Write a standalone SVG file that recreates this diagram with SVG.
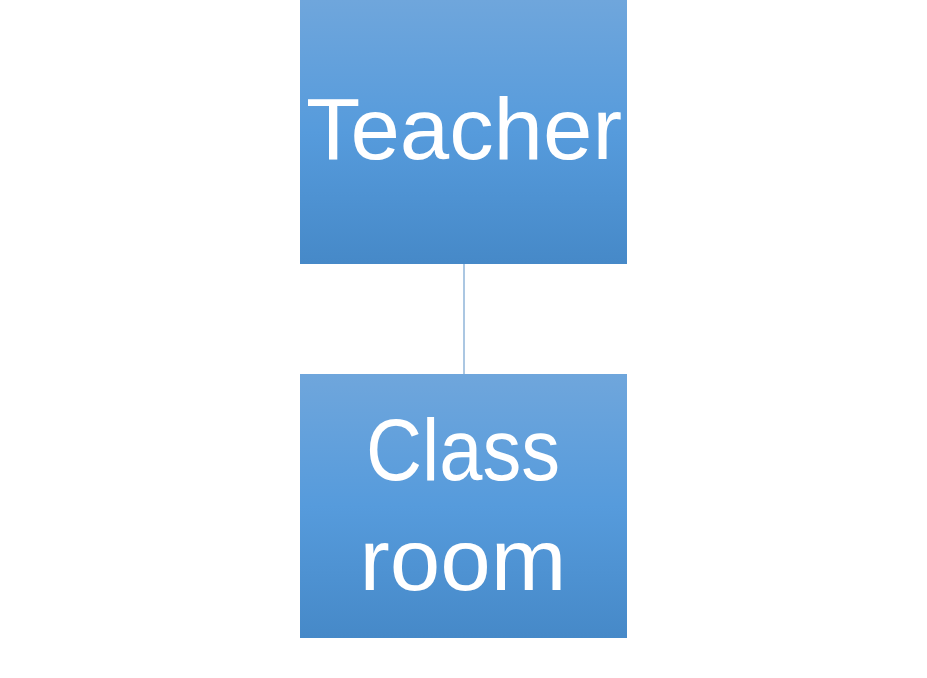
<svg xmlns="http://www.w3.org/2000/svg" width="927" height="678" viewBox="0 0 927 678">
<defs>
<linearGradient id="g" x1="0" y1="0" x2="0" y2="1">
<stop offset="0" stop-color="#6fa6dc"/>
<stop offset="0.5" stop-color="#569bdc"/>
<stop offset="1" stop-color="#4689c8"/>
</linearGradient>
</defs>
<style>
.box{fill:url(#g);}
.t{fill:#fff;font-family:"Liberation Sans",Arial,sans-serif;font-size:88px;text-anchor:middle;}
.c{stroke:#8fb4d8;stroke-width:1.5;fill:none;}
</style>
<rect width="927" height="678" fill="#fff"/>
<g id="connectors">
<line class="c" x1="464" y1="264" x2="464" y2="374"/>
</g>
<g id="teacher">
<rect class="box" x="300" y="0" width="327" height="264"/>
<text class="t" x="464" y="159" textLength="316" lengthAdjust="spacingAndGlyphs">Teacher</text>
</g>
<g id="classroom">
<rect class="box" x="300" y="374" width="327" height="264"/>
<text class="t" x="463" y="480" textLength="194" lengthAdjust="spacingAndGlyphs">Class</text>
<text class="t" x="463" y="590" textLength="207" lengthAdjust="spacingAndGlyphs">room</text>
</g>
</svg>
